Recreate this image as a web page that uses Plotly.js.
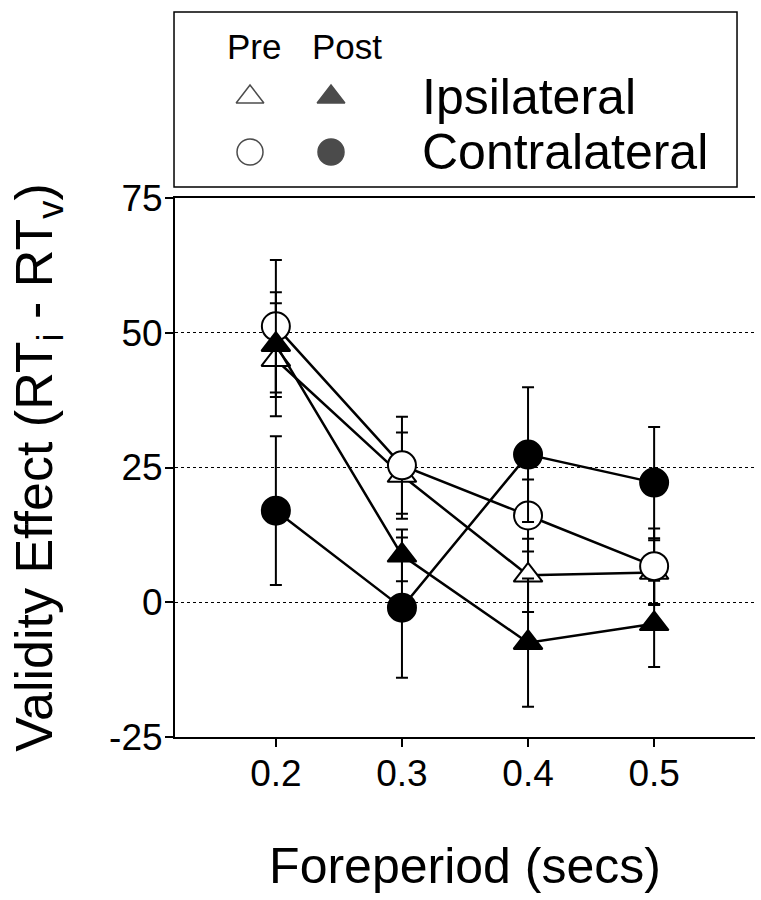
<!DOCTYPE html>
<html>
<head>
<meta charset="utf-8">
<script src="https://cdn.plot.ly/plotly-3.0.1.min.js"></script>
<style>html,body{margin:0;padding:0;background:#fff;}#chart{width:761px;height:900px;}</style>
</head>
<body>
<div id="chart"></div>
<script>
// ---- data ----
const foreperiod = [0.2, 0.3, 0.4, 0.5];
const xTickLabels = ['0.2', '0.3', '0.4', '0.5'];
const yTickVals = [-25, 0, 25, 50, 75];
const yTickLabels = ['-25', '0', '25', '50', '75'];

const preIpsi = [45.0, 23.5, 5.0, 5.5];
const preIpsiErr = [10.5, 8.0, 6.8, 6.0];
const postIpsi = [47.8, 8.7, -7.5, -4.0];
const postIpsiErr = [9.7, 4.8, 11.9, 8.0];
const preContra = [51.2, 25.4, 16.1, 6.7];
const preContraErr = [12.3, 9.0, 6.7, 7.0];
const postContra = [17.0, -1.0, 27.4, 22.2];
const postContraErr = [13.8, 13.0, 12.5, 10.3];

// legend grid categories
const legendCols = ['Pre', 'Post'];
const legendRows = ['Ipsilateral', 'Contralateral'];

const FONT = 'Liberation Sans, Arial, Helvetica, sans-serif';

function series(y, err, symbol, fill, size) {
  return {
    x: foreperiod, y: y, type: 'scatter', mode: 'lines+markers',
    line: {color: 'black', width: 2.5},
    marker: {symbol: symbol, size: size, color: fill, line: {color: 'black', width: 2}},
    error_y: {type: 'data', array: err, visible: true, color: 'black', thickness: 2, width: 6},
    showlegend: false, cliponaxis: false, xaxis: 'x', yaxis: 'y'
  };
}

const traces = [
  series(preIpsi, preIpsiErr, 'triangle-up', 'white', 25),
  series(preContra, preContraErr, 'circle', 'white', 28),
  series(postIpsi, postIpsiErr, 'triangle-up', 'black', 25),
  series(postContra, postContraErr, 'circle', 'black', 28),
  {
    // legend key markers on a small categorical grid
    x: [legendCols[0], legendCols[1], legendCols[0], legendCols[1]],
    y: [legendRows[0], legendRows[0], legendRows[1], legendRows[1]],
    type: 'scatter', mode: 'markers', xaxis: 'x2', yaxis: 'y2', showlegend: false,
    marker: {
      symbol: ['triangle-up', 'triangle-up', 'circle', 'circle'],
      color: ['white', 'black', 'white', 'black'],
      size: [24, 24, 26, 26],
      line: {color: 'black', width: 1.5}
    }
  }
];

const annotations = [];
legendCols.forEach((c, i) => annotations.push({
  x: c, xref: 'x2', y: 0.952, yref: 'paper', yanchor: 'middle', xanchor: 'center',
  xshift: i === 0 ? 4 : 16, text: c, showarrow: false, font: {family: FONT, size: 35, color: 'black'}
}));
legendRows.forEach(r => annotations.push({
  x: 0.422, xref: 'paper', xanchor: 'left', y: r, yref: 'y2', yanchor: 'middle',
  text: r, showarrow: false, font: {family: FONT, size: 50, color: 'black'}
}));

const layout = {
  width: 761, height: 900,
  margin: {l: 175, r: 6, t: 12, b: 163},
  paper_bgcolor: 'white', plot_bgcolor: 'white',
  font: {family: FONT, color: 'black'},
  showlegend: false,
  xaxis: {
    domain: [0, 1], range: [0.12, 0.58], tickvals: foreperiod, ticktext: xTickLabels,
    ticks: 'outside', ticklen: 8, tickwidth: 2, tickcolor: 'black',
    showline: true, linewidth: 2, linecolor: 'black', mirror: true,
    showgrid: false, zeroline: false, ticklabelstandoff: -5,
    tickfont: {family: FONT, size: 37, color: 'black'},
    title: {text: 'Foreperiod (secs)', font: {family: FONT, size: 50, color: 'black'}, standoff: 55}
  },
  yaxis: {
    domain: [0, 0.7434], range: [-25, 75], tickvals: yTickVals, ticktext: yTickLabels,
    ticks: 'outside', ticklen: 8, tickwidth: 2, tickcolor: 'black',
    showline: true, linewidth: 2, linecolor: 'black', mirror: false,
    showgrid: true, gridcolor: 'black', gridwidth: 1, griddash: 'dot',
    zeroline: false, ticklabelstandoff: -5,
    tickfont: {family: FONT, size: 37, color: 'black'},
    title: {text: 'Validity Effect (RT<sub>i</sub> - RT<sub>v</sub>)', font: {family: FONT, size: 52, color: 'black'}, standoff: 40}
  },
  xaxis2: {
    domain: [0.0595, 0.3388], range: [-0.5, 1.5], type: 'category', categoryarray: legendCols,
    anchor: 'y2', visible: false, fixedrange: true
  },
  yaxis2: {
    domain: [0.769, 0.9207], range: [-0.5, 1.5], type: 'category',
    categoryorder: 'array', categoryarray: legendRows.slice().reverse(),
    anchor: 'x2', visible: false, fixedrange: true
  },
  shapes: [{
    type: 'rect', xref: 'paper', yref: 'paper',
    x0: -0.0017, x1: 0.969, y0: 0.7586, y1: 1.0,
    line: {color: 'black', width: 1.5}, fillcolor: 'rgba(0,0,0,0)'
  }],
  annotations: annotations
};

Plotly.newPlot('chart', traces, layout, {displayModeBar: false, staticPlot: true});
</script>
</body>
</html>
